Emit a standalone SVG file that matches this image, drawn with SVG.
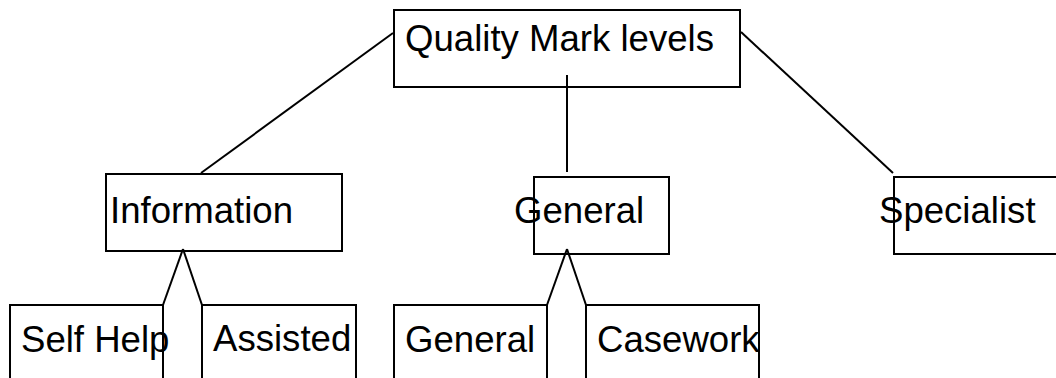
<svg xmlns="http://www.w3.org/2000/svg" width="1056" height="378" viewBox="0 0 1056 378">
<style>
.box{fill:#fff;stroke:#000;stroke-width:2}
.lbl{font-family:"Liberation Sans",Arial,sans-serif;font-size:36.6px;fill:#000}
.con line{stroke:#000;stroke-width:2}
</style>
<rect width="1056" height="378" fill="#fff"/>
<g id="n-top"><rect class="box" x="394" y="10" width="346" height="77"/><text class="lbl" x="405" y="51">Quality Mark levels</text></g>
<g id="n-info"><rect class="box" x="106" y="174" width="236" height="77"/><text class="lbl" x="110" y="223">Information</text></g>
<g id="n-general"><rect class="box" x="534" y="177" width="135" height="77"/><text class="lbl" x="514" y="223">General</text></g>
<g id="n-specialist"><rect class="box" x="894" y="177" width="200" height="77"/><text class="lbl" x="879" y="223">Specialist</text></g>
<g id="n-selfhelp"><rect class="box" x="10" y="305" width="153" height="100"/><text class="lbl" x="21" y="352">Self Help</text></g>
<g id="n-assisted"><rect class="box" x="202" y="305" width="154" height="100"/><text class="lbl" x="213" y="351">Assisted</text></g>
<g id="n-general2"><rect class="box" x="394" y="305" width="153" height="100"/><text class="lbl" x="405" y="352">General</text></g>
<g id="n-casework"><rect class="box" x="586" y="305" width="173" height="100"/><text class="lbl" x="597" y="352">Casework</text></g>
<g id="connectors" class="con">
<line x1="393" y1="33" x2="201" y2="173"/>
<line x1="567" y1="75" x2="567" y2="172"/>
<line x1="741" y1="32" x2="893" y2="173"/>
<line x1="183" y1="249" x2="163" y2="305"/>
<line x1="183" y1="249" x2="202" y2="305"/>
<line x1="567" y1="249" x2="547" y2="305"/>
<line x1="567" y1="249" x2="586" y2="305"/>
</g>
</svg>
